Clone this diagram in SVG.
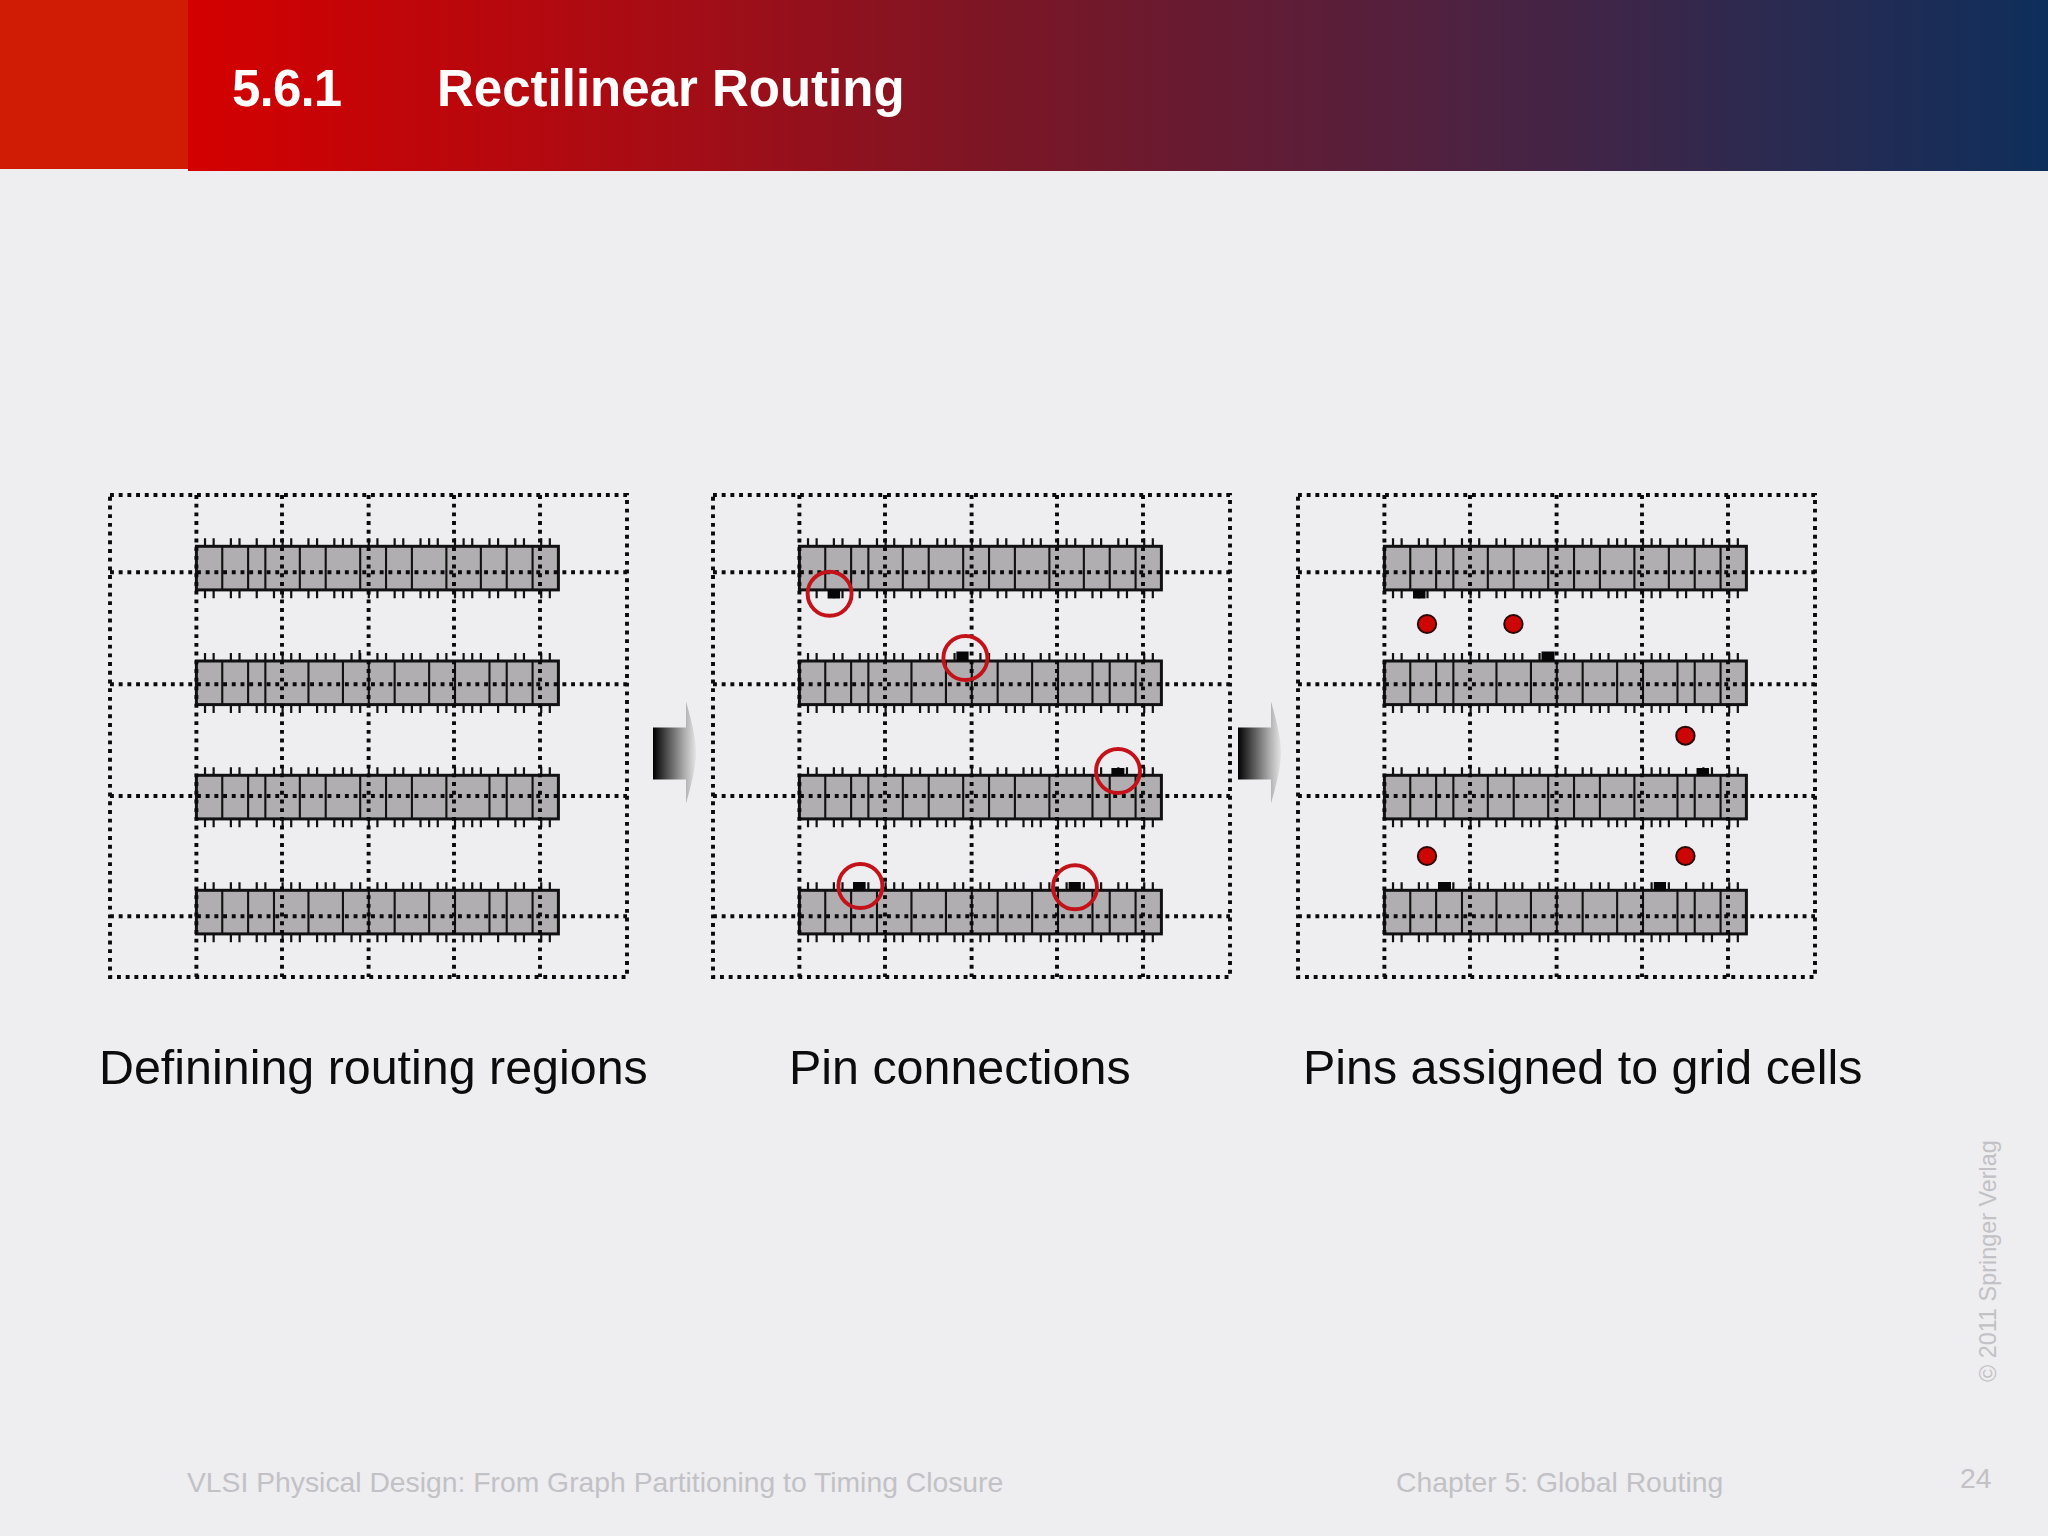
<svg xmlns="http://www.w3.org/2000/svg" width="2048" height="1536" viewBox="0 0 2048 1536">
<style>
.row{fill:#b0aeb0;stroke:#111;stroke-width:3}
.div{fill:none;stroke:#111;stroke-width:2.1;vector-effect:non-scaling-stroke}
.tick{fill:none;stroke:#111;stroke-width:2.2;vector-effect:non-scaling-stroke}
.dot{fill:none;stroke:#0a0a0a;stroke-width:3.9;stroke-dasharray:3.9 4.8}
.pin{fill:#060606}
.ring{fill:none;stroke:#c4121a;stroke-width:3.9}
.cell{fill:#cc0505;stroke:#2a0808;stroke-width:2}
.cap{font-family:"Liberation Sans",Arial,sans-serif;font-size:48.4px;fill:#0c0c0c}
.foot{font-family:"Liberation Sans",Arial,sans-serif;font-size:28.3px;fill:#c2c1c5}
.ttl{font-family:"Liberation Sans",Arial,sans-serif;font-size:51px;font-weight:bold;fill:#fff}
</style>
<defs>
<linearGradient id="hdr" x1="188" y1="0" x2="2048" y2="0" gradientUnits="userSpaceOnUse">
<stop offset="0" stop-color="#d40000"/><stop offset="0.25" stop-color="#a80c14"/><stop offset="0.44" stop-color="#7a1626"/><stop offset="0.68" stop-color="#4f2140"/><stop offset="0.85" stop-color="#2c2a50"/><stop offset="1" stop-color="#0e2f5b"/>
</linearGradient>
<linearGradient id="arrowFill" x1="0" y1="0" x2="1" y2="0">
<stop offset="0" stop-color="#000"/><stop offset="0.35" stop-color="#555"/><stop offset="0.72" stop-color="#aaa"/><stop offset="1" stop-color="#e4e4e6"/>
</linearGradient>
<path id="arrow" fill="url(#arrowFill)" d="M0 52H33V26Q43 60 43 77Q43 94 33 128V104H0Z"/>
<path id="p1" class="tick" d="M1-8v8M2-8v8M4-8v8M5-8v8M7-8v8M9-8v8M10-8v8M11-8v8M13-8v8M14-8v8M16-8v8M17-8v8M18-8v8M20-8v8M21-8v8M23-8v8M24-8v8M26-8v8M27-8v8M28-8v8M30-8v8M31-8v8M32-8v8M34-8v8M35-8v8M37-8v8M38-8v8M40-8v8M41-8v8"/>
<path id="p2" class="tick" d="M1-8v8M2-8v8M4-8v8M5-8v8M7-8v8M8-8v8M9-8v8M10-8v8M11-8v8M12-8v8M14-8v8M15-8v8M16-8v8M18-8v8M19-8v8M21-8v8M22-8v8M24-8v8M25-8v8M26-8v8M28-8v8M29-8v8M31-8v8M32-8v8M33-8v8M35-8v8M37-8v8M38-8v8M40-8v8M41-8v8"/>
<path id="p3" class="tick" d="M1-8v8M2-8v8M4-8v8M5-8v8M7-8v8M9-8v8M10-8v8M11-8v8M13-8v8M14-8v8M16-8v8M17-8v8M18-8v8M20-8v8M21-8v8M23-8v8M24-8v8M26-8v8M27-8v8M28-8v8M30-8v8M31-8v8M32-8v8M33-8v8M35-8v8M37-8v8M38-8v8M40-8v8M41-8v8"/>
<path id="p4" class="tick" d="M1-8v8M2-8v8M4-8v8M5-8v8M7-8v8M8-8v8M10-8v8M11-8v8M12-8v8M14-8v8M15-8v8M16-8v8M18-8v8M19-8v8M21-8v8M22-8v8M24-8v8M25-8v8M26-8v8M28-8v8M29-8v8M31-8v8M32-8v8M33-8v8M35-8v8M37-8v8M38-8v8M40-8v8M41-8v8"/>
<g id="r1"><rect class="row" width="362" height="43.6"/><g transform="scale(8.62 1)"><path class="div" d="M3 0V43.6M6 0V43.6M8 0V43.6M12 0V43.6M15 0V43.6M19 0V43.6M22 0V43.6M25 0V43.6M29 0V43.6M33 0V43.6M36 0V43.6M39 0V43.6"/><use href="#p1"/><use href="#p1" y="52"/></g></g>
<g id="r2"><rect class="row" width="362" height="43.6"/><g transform="scale(8.62 1)"><path class="div" d="M3 0V43.6M6 0V43.6M8 0V43.6M13 0V43.6M17 0V43.6M20 0V43.6M23 0V43.6M27 0V43.6M30 0V43.6M34 0V43.6M36 0V43.6M39 0V43.6"/><use href="#p2"/><use href="#p2" y="52"/></g></g>
<g id="r3"><rect class="row" width="362" height="43.6"/><g transform="scale(8.62 1)"><path class="div" d="M3 0V43.6M6 0V43.6M8 0V43.6M12 0V43.6M15 0V43.6M19 0V43.6M22 0V43.6M25 0V43.6M29 0V43.6M34 0V43.6M36 0V43.6M39 0V43.6"/><use href="#p3"/><use href="#p3" y="52"/></g></g>
<g id="r4"><rect class="row" width="362" height="43.6"/><g transform="scale(8.62 1)"><path class="div" d="M3 0V43.6M6 0V43.6M9 0V43.6M13 0V43.6M17 0V43.6M20 0V43.6M23 0V43.6M27 0V43.6M30 0V43.6M34 0V43.6M36 0V43.6M39 0V43.6"/><use href="#p4"/><use href="#p4" y="52"/></g></g>
<g id="grid">
<use href="#r1" x="196.4" y="546.3"/><use href="#r2" x="196.4" y="661"/><use href="#r3" x="196.4" y="775.3"/><use href="#r4" x="196.4" y="890.3"/>
<path class="dot" d="M110 495H627V977H110ZM196.4 495V977M282 495V977M368.6 495V977M454 495V977M540 495V977M110 572.3H627M110 684.3H627M110 796H627M110 916.3H627"/>
</g>
</defs>
<rect id="background" width="2048" height="1536" fill="#eeedf0"/>
<g id="header">
<rect x="188" width="1860" height="171" fill="url(#hdr)"/>
<rect width="188" height="169" fill="#d01b05"/>
<text class="ttl" x="232" y="106" style="letter-spacing:-0.8px">5.6.1</text>
<text class="ttl" x="437" y="106">Rectilinear Routing</text>
</g>
<g id="panel-regions"><use href="#grid"/><path class="tick" d="M359.6 650V661"/></g>
<g id="panel-pins" transform="translate(603 0)"><use href="#grid"/>
<rect class="pin" x="224.6" y="589.5" width="12.5" height="9"/><rect class="pin" x="353.4" y="651.5" width="12.2" height="9.5"/><rect class="pin" x="508.4" y="768" width="13" height="8"/><rect class="pin" x="250" y="882" width="12.6" height="8.5"/><rect class="pin" x="465.6" y="882" width="12.2" height="8.5"/>
<circle class="ring" cx="226.6" cy="593.7" r="22"/><circle class="ring" cx="362.4" cy="658" r="22"/><circle class="ring" cx="515" cy="771" r="22"/><circle class="ring" cx="257.4" cy="886" r="22"/><circle class="ring" cx="472" cy="887.3" r="22"/>
</g>
<g id="panel-cells" transform="translate(1188 0)"><use href="#grid"/>
<rect class="pin" x="225" y="590" width="12.5" height="8.5"/><rect class="pin" x="353.5" y="651.5" width="13" height="9.5"/><rect class="pin" x="508.5" y="768" width="12.5" height="8"/><rect class="pin" x="250" y="882" width="13" height="8.5"/><rect class="pin" x="465.8" y="882" width="12.2" height="8.5"/>
<ellipse class="cell" cx="239" cy="624" rx="9.2" ry="9"/><ellipse class="cell" cx="325.4" cy="624" rx="9.2" ry="9"/><ellipse class="cell" cx="497.4" cy="735.7" rx="9.2" ry="9"/><ellipse class="cell" cx="239" cy="856" rx="9.2" ry="9"/><ellipse class="cell" cx="497.4" cy="856" rx="9.2" ry="9"/>
</g>
<g id="arrows"><use href="#arrow" x="653" y="675.5"/><use href="#arrow" x="1238" y="675.5"/></g>
<g id="captions">
<text class="cap" x="99" y="1084">Definining routing regions</text>
<text class="cap" x="789" y="1084">Pin connections</text>
<text class="cap" x="1303" y="1084">Pins assigned to grid cells</text>
</g>
<g id="footer">
<text class="foot" x="187" y="1492">VLSI Physical Design: From Graph Partitioning to Timing Closure</text>
<text class="foot" x="1396" y="1492">Chapter 5: Global Routing</text>
<text class="foot" x="1960" y="1488">24</text>
<text class="foot" style="font-size:23.4px" transform="translate(1996 1382) rotate(-90)">© 2011 Springer Verlag</text>
</g>
</svg>
